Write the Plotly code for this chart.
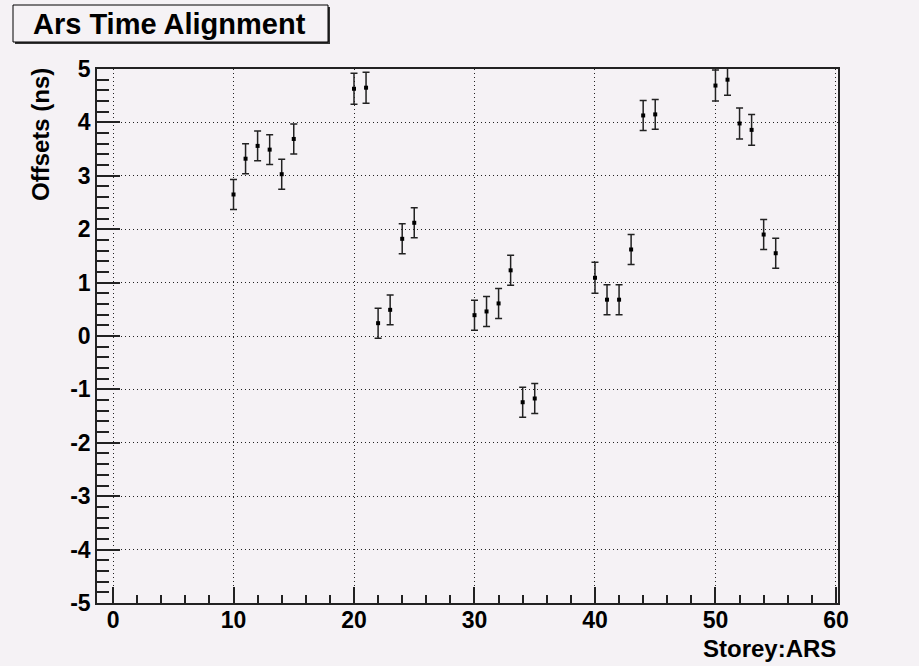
import plotly.graph_objects as go

# ---- data ----
storey = [10, 11, 12, 13, 14, 15, 20, 21, 22, 23, 24, 25,
          30, 31, 32, 33, 34, 35, 40, 41, 42, 43, 44, 45,
          50, 51, 52, 53, 54, 55]
offsets = [2.65, 3.32, 3.56, 3.49, 3.03, 3.69, 4.63, 4.65, 0.24, 0.49, 1.82, 2.12,
           0.39, 0.46, 0.61, 1.23, -1.24, -1.17, 1.09, 0.68, 0.68, 1.62, 4.13, 4.15,
           4.69, 4.80, 3.98, 3.86, 1.90, 1.55]
errors = [0.28, 0.28, 0.28, 0.28, 0.28, 0.28, 0.29, 0.29, 0.28, 0.28, 0.28, 0.28,
          0.28, 0.28, 0.28, 0.28, 0.28, 0.28, 0.29, 0.28, 0.28, 0.28, 0.28, 0.28,
          0.29, 0.29, 0.29, 0.29, 0.28, 0.28]
x_ticks = [0, 10, 20, 30, 40, 50, 60]
y_ticks = [-5, -4, -3, -2, -1, 0, 1, 2, 3, 4, 5]

title_text = "Ars Time Alignment"
x_title = "Storey:ARS"
y_title = "Offsets (ns)"

BG = "#f5f2f5"
FONT = "Liberation Sans"

# plot-area pixel geometry
W, H = 919, 666
L, R, T, B = 97, 81, 69, 63
PW, PH = W - L - R, H - T - B


def px(xp):
    return (xp - L) / PW


def py(yp):
    return (H - B - yp) / PH


fig = go.Figure()
fig.add_trace(go.Scatter(
    x=storey, y=offsets, mode="markers",
    marker=dict(symbol="square", size=4, color="black"),
    error_y=dict(type="data", array=errors, visible=True,
                 color="#222222", thickness=1.5, width=3.5),
    showlegend=False,
))

axis_common = dict(
    automargin=False,
    showline=True, mirror=True, linecolor="#222222", linewidth=1.5,
    showgrid=True, gridcolor="#222222", griddash="1px,3px", gridwidth=1,
    zeroline=False, ticks="inside", tickcolor="#222222", tickwidth=1.5,
    tickfont=dict(family=FONT, size=23, color="black", weight="bold"),
)

fig.update_xaxes(
    range=[-1.33, 60.17], tickvals=x_ticks, ticktext=[str(v) for v in x_ticks],
    ticklen=16, ticklabelstandoff=-4,
    minor=dict(dtick=2, tick0=0, ticklen=8, ticks="inside",
               tickcolor="#222222", tickwidth=1.5, showgrid=False),
    **axis_common,
)
fig.update_yaxes(
    range=[-5, 5], tickvals=y_ticks, ticktext=[str(v) for v in y_ticks],
    ticklen=23,
    minor=dict(dtick=0.2, tick0=0, ticklen=12, ticks="inside",
               tickcolor="#222222", tickwidth=1.5, showgrid=False),
    **axis_common,
)

shapes = [
    # title box shadow
    dict(type="rect", xref="paper", yref="paper",
         x0=px(15), x1=px(330), y0=py(44), y1=py(7),
         fillcolor="#333333", line=dict(width=0), layer="above"),
    # title box
    dict(type="rect", xref="paper", yref="paper",
         x0=px(13), x1=px(328), y0=py(42), y1=py(5),
         fillcolor=BG, line=dict(color="black", width=1), layer="above"),
]

annotations = [
    dict(text=title_text, xref="paper", yref="paper",
         x=px(169), y=py(24), xanchor="center", yanchor="middle",
         showarrow=False, font=dict(family=FONT, size=29, color="black", weight="bold")),
    dict(text=x_title, xref="paper", yref="paper",
         x=px(838), y=py(648), xanchor="right", yanchor="middle",
         showarrow=False, font=dict(family=FONT, size=24, color="black", weight="bold")),
    dict(text=y_title, xref="paper", yref="paper", textangle=-90,
         x=px(40), y=py(135), xanchor="center", yanchor="middle",
         showarrow=False, font=dict(family=FONT, size=24, color="black", weight="bold")),
]

fig.update_layout(
    width=W, height=H,
    margin=dict(l=L, r=R, t=T, b=B, pad=0, autoexpand=False),
    paper_bgcolor=BG, plot_bgcolor=BG,
    shapes=shapes, annotations=annotations,
    showlegend=False,
)

fig.write_html(
    "out.html",
    config={"displayModeBar": False},
    post_script="document.body.style.margin='0';document.body.style.overflow='hidden';",
)
